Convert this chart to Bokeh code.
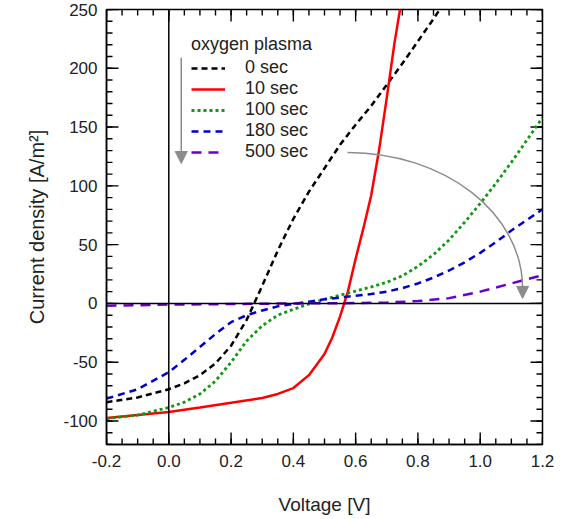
from bokeh.plotting import figure
from bokeh.models import (Range1d, SingleIntervalTicker, Legend, LegendItem,
                          Arrow, NormalHead, CustomJSTickFormatter, Span)
from bokeh.embed import file_html
from bokeh.resources import INLINE

# J-V curves after different oxygen plasma exposure times
v_0s = [-0.2, -0.1, 0.0, 0.05, 0.1, 0.15, 0.2, 0.25, 0.3, 0.35, 0.4, 0.45, 0.5,
        0.55, 0.6, 0.65, 0.7, 0.75, 0.8, 0.85, 0.875]
j_0s = [-84, -80, -73, -68, -61, -51, -36, -14, 15, 45, 72, 95, 115,
        135, 152, 168, 186, 204, 223, 242, 252]

v_10s = [-0.2, -0.1, 0.0, 0.1, 0.2, 0.3, 0.35, 0.4, 0.45, 0.5, 0.525, 0.55,
         0.575, 0.6, 0.625, 0.65, 0.675, 0.7, 0.725, 0.75]
j_10s = [-97.5, -95, -92.4, -88.5, -84.5, -80.5, -77, -72, -61, -43, -29, -11,
         10, 38, 64, 92, 130, 175, 222, 262]

v_100s = [-0.2, -0.1, 0.0, 0.05, 0.1, 0.15, 0.2, 0.25, 0.3, 0.35, 0.4, 0.45, 0.5,
          0.55, 0.6, 0.65, 0.7, 0.75, 0.8, 0.85, 0.9, 0.95, 1.0, 1.05, 1.1, 1.15, 1.2]
j_100s = [-98, -95, -88.5, -84, -77, -66, -50, -32, -19, -10, -5, -0.5, 3.5,
          7, 10.5, 14, 18, 23.5, 31.5, 41.5, 54, 69, 85, 102, 120, 139, 158]

v_180s = [-0.2, -0.1, 0.0, 0.05, 0.1, 0.15, 0.2, 0.25, 0.3, 0.35, 0.4, 0.45, 0.5,
          0.55, 0.6, 0.65, 0.7, 0.75, 0.8, 0.85, 0.9, 0.95, 1.0, 1.05, 1.1, 1.15, 1.2]
j_180s = [-81, -73, -58.5, -48, -37, -26, -16, -10, -6, -2.5, -0.5, 1.5, 3.5,
          5, 6.5, 8, 10, 13, 17, 22, 28, 35, 43, 52, 62, 71, 80]

v_500s = [-0.2, -0.1, 0.0, 0.2, 0.4, 0.6, 0.7, 0.8, 0.9, 1.0, 1.1, 1.2]
j_500s = [-2, -1.5, -1, -0.5, 0, 0.3, 0.8, 2, 4.5, 10, 17, 24]

labels = ["0 sec", "10 sec", "100 sec", "180 sec", "500 sec"]

FONT = "Liberation Sans"
TXT = "#222222"

X0, X1, Y0, Y1 = -0.2, 1.2, -120.0, 250.0
W, H = 568, 519
BL, BR, BT, BB = 106, 26, 9, 75
FW, FH = W - BL - BR, H - BT - BB          # frame size in pixels
PX_X = (X1 - X0) / FW                       # data units per pixel
PX_Y = (Y1 - Y0) / FH

p = figure(width=W, height=H, x_range=Range1d(X0, X1 + 1e-9), y_range=Range1d(Y0, Y1),
           output_backend="svg", toolbar_location=None,
           min_border_left=BL, min_border_right=BR, min_border_top=BT, min_border_bottom=BB,
           x_axis_label="Voltage [V]", y_axis_label="Current density [A/m²]")
p.grid.visible = False
p.outline_line_color = "black"
p.outline_line_width = 1.5

xa = p.xaxis[0]
xa.ticker = SingleIntervalTicker(interval=0.2)
xa.formatter = CustomJSTickFormatter(code="return tick.toFixed(1);")
ya = p.yaxis[0]
ya.ticker = SingleIntervalTicker(interval=50)
ya.formatter = CustomJSTickFormatter(code="return tick.toFixed(0);")
for ax in (xa, ya):
    ax.axis_line_color = "black"
    ax.axis_line_width = 1.5
    ax.major_tick_in = 0
    ax.major_tick_out = 0
    ax.minor_tick_in = 0
    ax.minor_tick_out = 0
    ax.major_label_text_font = FONT
    ax.major_label_text_font_size = "17px"
    ax.major_label_text_color = TXT
    ax.axis_label_text_font = FONT
    ax.axis_label_text_font_style = "normal"
    ax.axis_label_text_color = TXT
xa.axis_label_text_font_size = "19px"
ya.axis_label_text_font_size = "20px"
xa.major_label_standoff = 10
xa.axis_label_standoff = 24
ya.major_label_standoff = 9
ya.axis_label_standoff = 12

# inward tick marks on all four sides, drawn as thin filled bars
MAJ, MIN, TW = 12.0, 6.0, 1.4
xt_major = [round(-0.2 + 0.2 * i, 3) for i in range(8)]
xt_minor = [round(-0.2 + 0.05 * i, 3) for i in range(29)]
yt_major = [float(v) for v in range(-100, 251, 50)]
yt_minor = [float(v) for v in range(-120, 251, 10)]

bx, by, bw, bh = [], [], [], []
for xs, ln in ((xt_minor, MIN), (xt_major, MAJ)):
    for x in xs:
        for yc in (Y0 + 0.5 * ln * PX_Y, Y1 - 0.5 * ln * PX_Y):
            bx.append(x); by.append(yc); bw.append(TW); bh.append(ln)
for ys, ln in ((yt_minor, MIN), (yt_major, MAJ)):
    for y in ys:
        for xc in (X0 + 0.5 * ln * PX_X, X1 - 0.5 * ln * PX_X):
            bx.append(xc); by.append(y); bw.append(ln); bh.append(TW)
p.rect(x=bx, y=by, width=bw, height=bh, width_units="screen", height_units="screen",
       fill_color="black", line_color=None)

# zero reference lines
p.add_layout(Span(location=0, dimension="width", line_color="black", line_width=1.5))
p.add_layout(Span(location=0, dimension="height", line_color="black", line_width=1.5))

r0 = p.line(v_0s, j_0s, line_color="black", line_width=2.5, line_dash="6 4")
r10 = p.line(v_10s, j_10s, line_color="#ff0000", line_width=2.5)
r100 = p.line(v_100s, j_100s, line_color="#119911", line_width=2.8, line_dash="3 3")
r180 = p.line(v_180s, j_180s, line_color="#0000cc", line_width=2.5, line_dash="7 5")
r500 = p.line(v_500s, j_500s, line_color="#6a00cc", line_width=2.5, line_dash="10 7")

legend = Legend(items=[LegendItem(label=l, renderers=[r]) for l, r in
                       zip(labels, [r0, r10, r100, r180, r500])],
                title="oxygen plasma", location=(85, 282),
                label_text_font=FONT, label_text_font_size="18px", label_text_color=TXT,
                title_text_font=FONT, title_text_font_size="18px", title_text_font_style="normal",
                title_text_color=TXT, title_standoff=2,
                glyph_width=34, glyph_height=20, label_height=20, label_standoff=20,
                spacing=-1, padding=0, margin=0,
                background_fill_alpha=0, border_line_alpha=0)
p.add_layout(legend, "center")

# arrow indicating increasing exposure time in the legend
GREY = "#8c8c8c"
p.add_layout(Arrow(x_start=0.04, y_start=209, x_end=0.04, y_end=119,
                   line_color=GREY, line_width=1.5,
                   end=NormalHead(size=12, fill_color=GREY, line_color=GREY)))

# curved arrow from the 500 sec label towards its curve
sx, sy, ex, ey = 0.574, 128.4, 1.136, 13.0
p.bezier(x0=[sx], y0=[sy], x1=[ex], y1=[ey],
         cx0=[sx + 0.5523 * (ex - sx)], cy0=[sy],
         cx1=[ex], cy1=[ey + 0.5523 * (sy - ey)],
         line_color=GREY, line_width=1.5)
p.add_layout(Arrow(x_start=ex, y_start=ey, x_end=ex, y_end=4.3,
                   line_color=GREY, line_width=1.5,
                   end=NormalHead(size=12, fill_color=GREY, line_color=GREY)))

open("out.html", "w").write(file_html(p, INLINE))
